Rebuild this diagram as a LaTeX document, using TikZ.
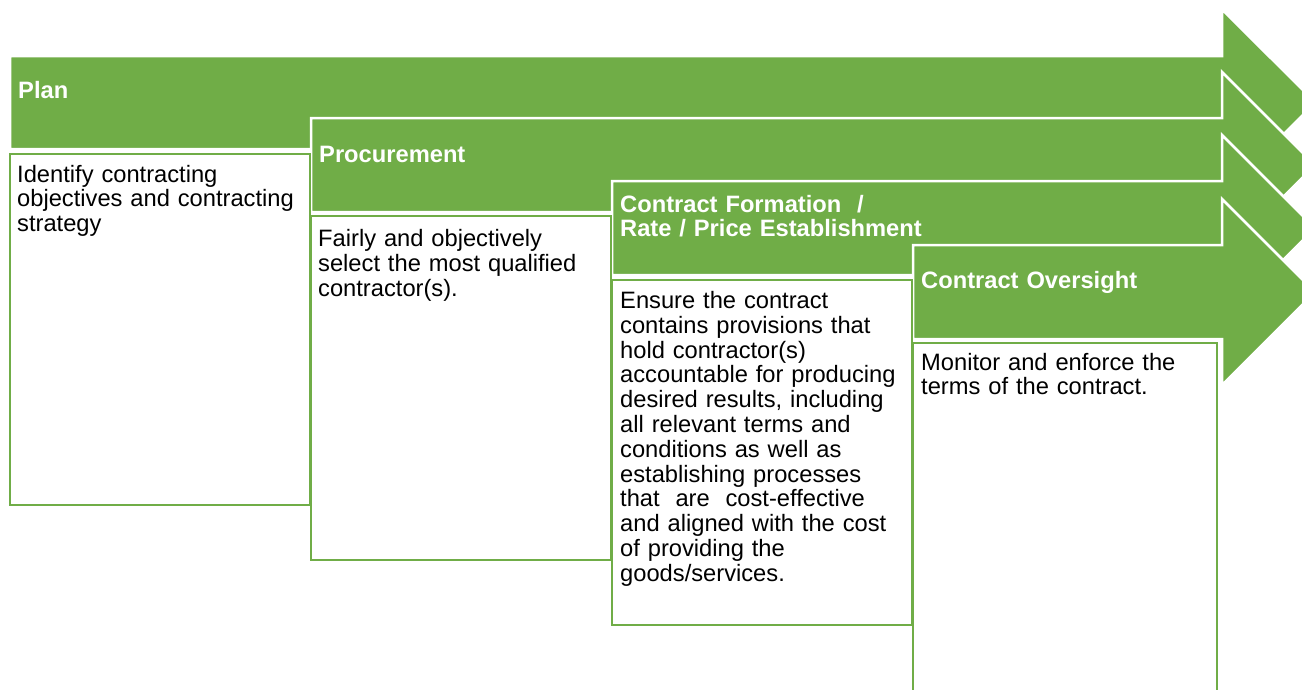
\documentclass[tikz,border=0pt]{standalone}
\usepackage{fontspec}
\setmainfont{Liberation Sans}
\definecolor{stepgreen}{RGB}{112,173,71}
\begin{document}
\begin{tikzpicture}[x=1pt,y=-1pt,
  arrowshape/.style={fill=stepgreen, draw=white, line width=2.5pt, line join=miter},
  textbox/.style={fill=white, draw=stepgreen, line width=2.5pt},
  title/.style={anchor=base west, inner sep=0pt, text=white, font=\fontsize{23.7}{24}\selectfont\bfseries, text width=400pt, align=left},
  body/.style={anchor=base west, inner sep=0pt, text=black, font=\fontsize{23.7}{24.8}\selectfont, text width=295pt, align=left}]
\useasboundingbox (0,0) rectangle (1302,689);
\clip (0,0) rectangle (1302,689);
% arrows
\path[arrowshape] (10,56) -- (1222,56) -- (1222,9.5) -- (1315.5,102.5) -- (1222,195.5) -- (1222,149) -- (10,149) -- cycle;
\path[arrowshape] (311,118) -- (1222,118) -- (1222,72) -- (1315,165) -- (1222,258) -- (1222,212) -- (311,212) -- cycle;
\path[arrowshape] (612,181) -- (1222,181) -- (1222,135) -- (1315,228) -- (1222,321) -- (1222,275) -- (612,275) -- cycle;
\path[arrowshape] (913,245) -- (1222,245) -- (1222,199) -- (1315,292) -- (1222,385) -- (1222,339) -- (913,339) -- cycle;
% boxes
\path[textbox] (10,154) rectangle (310,505);
\path[textbox] (311,216) rectangle (611,560);
\path[textbox] (612,280) rectangle (912,625);
\path[textbox] (913,343) rectangle (1217,720);
% titles
\node[title] (t1) at (18,98) {Plan};
\node[title] (t2) at (319,162) {Procurement};
\node[title] (t3) at (620,212) {Contract Formation\ \ /\\Rate / Price Establishment};
\node[title] (t4) at (921,288) {Contract Oversight};
% body texts
\node[body] (b1) at (17,182) {Identify contracting\\objectives and contracting\\strategy};
\node[body] (b2) at (318,246.5) {Fairly and objectively\\select the most qualified\\contractor(s).};
\node[body] (b3) at (620,308.5) {Ensure the contract\\contains provisions that\\hold contractor(s)\\accountable for producing\\desired results, including\\all relevant terms and\\conditions as well as\\establishing processes\\that\ \ are\ \ cost-effective\\and aligned with the cost\\of providing the\\goods/services.};
\node[body] (b4) at (921,370) {Monitor and enforce the\\terms of the contract.};
\end{tikzpicture}
\end{document}
